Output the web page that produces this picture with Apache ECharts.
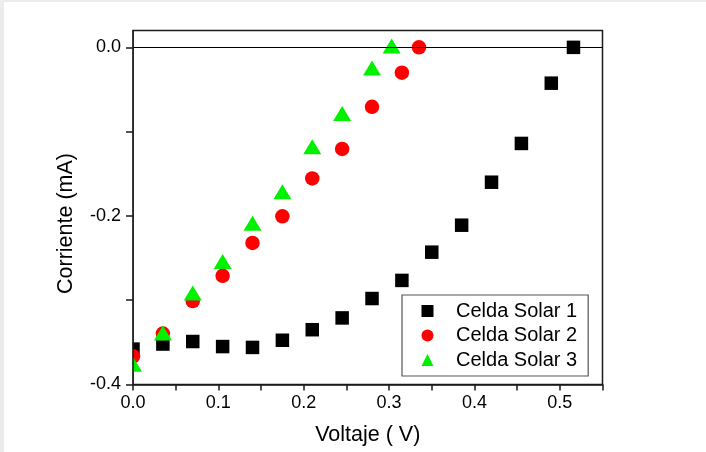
<!DOCTYPE html>
<html>
<head>
<meta charset="utf-8">
<script src="https://cdn.jsdelivr.net/npm/echarts@6/dist/echarts.min.js"></script>
<style>
  html, body { margin: 0; padding: 0; background: #ececef; width: 706px; height: 452px; overflow: hidden; }
  #chart { position: absolute; left: 4px; top: 2px; width: 702px; height: 450px; background: #ffffff; }
</style>
</head>
<body>
<div id="chart"></div>
<script>
// Data
const seriesNames = ['Celda Solar 1', 'Celda Solar 2', 'Celda Solar 3'];

const celda1X = [0, 0.035, 0.07, 0.105, 0.14, 0.175, 0.21, 0.245, 0.28, 0.315, 0.35, 0.385, 0.42, 0.455, 0.49, 0.516];
const celda1Y = [-0.358, -0.352, -0.349, -0.355, -0.356, -0.3475, -0.335, -0.321, -0.298, -0.2765, -0.243, -0.211, -0.160, -0.114, -0.0425, 0.0];

const celda2X = [0, 0.035, 0.07, 0.105, 0.14, 0.175, 0.21, 0.245, 0.28, 0.315, 0.335];
const celda2Y = [-0.3665, -0.3395, -0.301, -0.271, -0.232, -0.2005, -0.1555, -0.1205, -0.0705, -0.030, 0.0];

const celda3X = [0, 0.035, 0.07, 0.105, 0.14, 0.175, 0.21, 0.245, 0.28, 0.303];
const celda3Y = [-0.376, -0.339, -0.2915, -0.254, -0.2087, -0.1712, -0.118, -0.0785, -0.0245, 0.0015];

const xTickValues = [0, 0.05, 0.1, 0.15, 0.2, 0.25, 0.3, 0.35, 0.4, 0.45, 0.5, 0.55];
const xLabelValues = [0, 0.1, 0.2, 0.3, 0.4, 0.5];
const yTickValues = [-0.4, -0.3, -0.2, -0.1, 0];
const yLabelValues = [-0.4, -0.2, 0];

function zip(xs, ys) { return xs.map((x, i) => [x, ys[i]]); }

const FONT = '"Liberation Sans", Arial, Helvetica, sans-serif';
const chart = echarts.init(document.getElementById('chart'));

const option = {
  animation: false,
  backgroundColor: '#ffffff',
  textStyle: { fontFamily: FONT },
  grid: {
    left: 129, right: 103.5, top: 28.5, bottom: 67.5,
    show: true, borderColor: '#1a1a1a', borderWidth: 1.5, backgroundColor: 'transparent'
  },
  graphic: [{
    type: 'rect', z: 5, silent: true,
    shape: { x: 0, y: 0, width: 128.5, height: 450 },
    style: { fill: '#ffffff' }
  }],
  xAxis: {
    type: 'value', min: 0, max: 0.55, interval: 0.05, z: 10,
    name: 'Voltaje ( V)', nameLocation: 'middle', nameGap: 40,
    nameTextStyle: { fontSize: 21.5, color: '#000', fontFamily: FONT },
    axisLine: { show: true, onZero: false, lineStyle: { color: '#1a1a1a', width: 1.5 } },
    axisTick: { show: true, inside: false, length: 6, customValues: xTickValues, lineStyle: { color: '#1a1a1a', width: 1.5 } },
    axisLabel: { customValues: xLabelValues, margin: 10, fontSize: 18, color: '#000', fontFamily: FONT,
      formatter: v => v.toFixed(1) },
    splitLine: { show: false }
  },
  yAxis: {
    type: 'value', min: -0.4, max: 0.02, interval: 0.1, z: 10,
    name: 'Corriente (mA)', nameLocation: 'middle', nameGap: 56,
    nameTextStyle: { fontSize: 21.5, color: '#000', fontFamily: FONT, padding: [0, 32, 0, 0] },
    axisLine: { show: true, onZero: false, lineStyle: { color: '#1a1a1a', width: 1.5 } },
    axisTick: { show: true, inside: false, length: 7, customValues: yTickValues, lineStyle: { color: '#1a1a1a', width: 1.5 } },
    axisLabel: { customValues: yLabelValues, margin: 12, fontSize: 18, color: '#000', fontFamily: FONT,
      formatter: v => v.toFixed(1) },
    splitLine: { show: false }
  },
  legend: {
    left: 398, top: 293, orient: 'vertical',
    backgroundColor: '#ffffff',
    borderColor: '#555555', borderWidth: 1.2,
    padding: [6, 11, 6, 19.5],
    itemWidth: 12, itemHeight: 12, itemGap: 4.5,
    textStyle: { fontSize: 20, color: '#000', fontFamily: FONT, lineHeight: 19, padding: [0, 0, 0, 17.5] },
    data: [
      { name: seriesNames[0], icon: 'rect', itemStyle: { color: '#000000' } },
      { name: seriesNames[1], icon: 'circle', itemStyle: { color: '#ff0000' } },
      { name: seriesNames[2], icon: 'triangle', itemStyle: { color: '#00f000' } }
    ]
  },
  series: [
    {
      name: seriesNames[0], type: 'scatter', symbol: 'rect', symbolSize: 13.5,
      itemStyle: { color: '#000000', opacity: 1 },
      data: zip(celda1X, celda1Y),
      markLine: {
        silent: true, symbol: 'none', animation: false,
        label: { show: false },
        lineStyle: { color: '#000000', width: 1.2, type: 'solid' },
        data: [{ yAxis: 0 }]
      }
    },
    {
      name: seriesNames[1], type: 'scatter', symbol: 'circle', symbolSize: 14.5,
      itemStyle: { color: '#ff0000', opacity: 1 },
      data: zip(celda2X, celda2Y)
    },
    {
      name: seriesNames[2], type: 'scatter', symbol: 'triangle', symbolSize: [18, 15],
      itemStyle: { color: '#00f000', opacity: 1 },
      data: zip(celda3X, celda3Y)
    }
  ]
};

chart.setOption(option);
</script>
</body>
</html>
